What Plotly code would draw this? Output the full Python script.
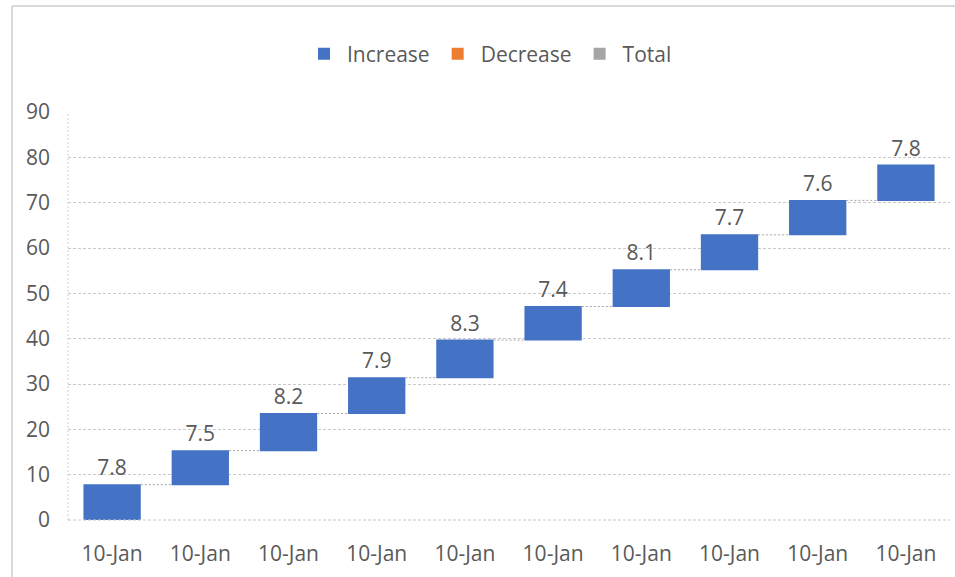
import plotly.graph_objects as go

categories = ["10-Jan"] * 10
values = [7.8, 7.5, 8.2, 7.9, 8.3, 7.4, 8.1, 7.7, 7.6, 7.8]
labels = ["7.8", "7.5", "8.2", "7.9", "8.3", "7.4", "8.1", "7.7", "7.6", "7.8"]
y_ticks = [0, 10, 20, 30, 40, 50, 60, 70, 80, 90]

INC = "#4472C4"
DEC = "#ED7D31"
TOT = "#A5A5A5"
TXT = "#595959"
FONT = "Open Sans, Noto Sans, sans-serif"

xpos = list(range(len(values)))

fig = go.Figure()
fig.add_trace(go.Waterfall(
    x=xpos, y=values, measure=["relative"] * len(values),
    text=labels, textposition="outside",
    textfont=dict(size=21, color=TXT, family=FONT),
    increasing=dict(marker=dict(color=INC, line=dict(color=INC, width=0))),
    decreasing=dict(marker=dict(color=DEC)),
    totals=dict(marker=dict(color=TOT)),
    connector=dict(line=dict(color="#A6A6A6", width=1, dash="2px,2px")),
    width=0.65, showlegend=False, cliponaxis=False, hoverinfo="skip",
))
for name, col in [("Increase", INC), ("Decrease", DEC), ("Total", TOT)]:
    fig.add_trace(go.Scatter(x=[None], y=[None], mode="markers", name=name,
                             marker=dict(symbol="square", size=11, color=col)))

fig.update_layout(
    width=955, height=577,
    margin=dict(l=68, r=5, t=112, b=57),
    paper_bgcolor="white", plot_bgcolor="white",
    font=dict(family=FONT, color=TXT, size=21),
    legend=dict(orientation="h", x=0.5 - 20 / 882, xanchor="center", y=1 - 54 / 577,
                yanchor="middle", yref="container", font=dict(size=21, color=TXT),
                itemsizing="constant", itemwidth=36),
    xaxis=dict(range=[-0.5, 9.5], tickmode="array", tickvals=xpos, ticktext=categories,
               showgrid=False, zeroline=False, showline=False, ticks="",
               tickfont=dict(size=21, color=TXT), ticklabelstandoff=19),
    yaxis=dict(range=[0, 90], tickmode="array", tickvals=y_ticks,
               showgrid=True, gridcolor="#C8C8C8", griddash="3px,2px", gridwidth=1,
               zeroline=False, showline=False, ticks="",
               tickfont=dict(size=21, color=TXT), ticklabelstandoff=17),
    shapes=[
        dict(type="line", xref="paper", yref="paper", x0=0, x1=0, y0=0, y1=1,
             line=dict(color="#D0D0D0", width=1, dash="2px,2px")),
        dict(type="line", xref="paper", yref="paper", x0=0, x1=1, y0=0, y1=0,
             line=dict(color="#C8C8C8", width=1, dash="3px,2px")),
        dict(type="line", xref="paper", yref="paper",
             x0=(12 - 68) / 882, x1=(12 - 68) / 882, y0=-0.3, y1=(520 - 6) / 408,
             line=dict(color="#D9D9D9", width=2)),
        dict(type="line", xref="paper", yref="paper",
             x0=(12 - 68) / 882, x1=1.2, y0=(520 - 6) / 408, y1=(520 - 6) / 408,
             line=dict(color="#D9D9D9", width=2)),
    ],
)
fig.write_html("out.html")
